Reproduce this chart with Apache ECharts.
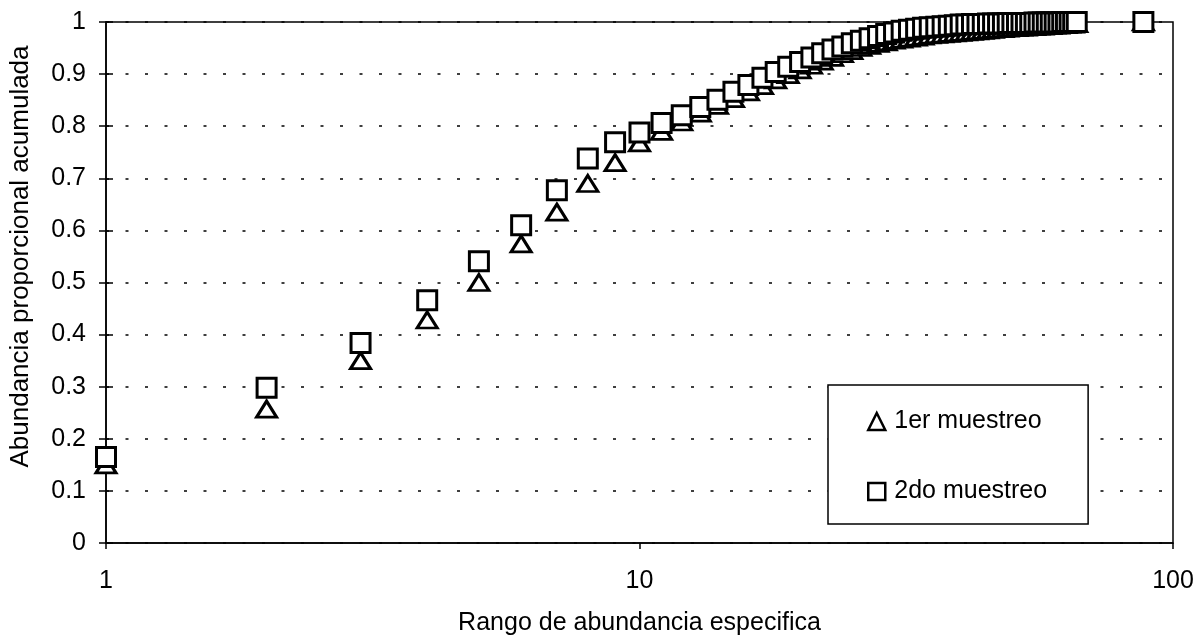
<!DOCTYPE html>
<html>
<head>
<meta charset="utf-8">
<script src="https://cdn.jsdelivr.net/npm/echarts@6/dist/echarts.min.js"></script>
<style>
html,body{margin:0;padding:0;background:#fff;}
#chart{width:1202px;height:642px;}
</style>
</head>
<body>
<div id="chart"></div>
<script>
// Rank of species (x)
var ranks = [1,2,3,4,5,6,7,8,9,10,11,12,13,14,15,16,17,18,19,20,
  21,22,23,24,25,26,27,28,29,30,31,32,33,34,35,36,37,38,39,40,
  41,42,43,44,45,46,47,48,49,50,51,52,53,54,55,56,57,58,59,60,
  61,62,63,64,65,66,88];

// 1er muestreo (triangles)
var muestreo1 = [0.150,0.257,0.350,0.428,0.500,0.574,0.635,0.690,0.730,0.768,
  0.790,0.808,0.825,0.840,0.853,0.866,0.878,0.889,0.899,0.908,
  0.917,0.925,0.932,0.939,0.945,0.951,0.955,0.959,0.962,0.965,
  0.967,0.969,0.971,0.973,0.975,0.976,0.977,0.978,0.979,0.980,
  0.981,0.982,0.983,0.984,0.985,0.986,0.987,0.987,0.988,0.989,
  0.989,0.990,0.990,0.991,0.991,0.992,0.992,0.993,0.993,0.994,
  0.994,0.995,0.995,0.996,0.996,0.997,1.000];

// 2do muestreo (squares)
var muestreo2 = [0.165,0.298,0.384,0.466,0.541,0.610,0.677,0.738,0.769,0.788,
  0.806,0.821,0.837,0.851,0.866,0.879,0.893,0.904,0.914,0.923,
  0.932,0.940,0.947,0.953,0.959,0.964,0.969,0.973,0.977,0.980,
  0.983,0.985,0.987,0.989,0.990,0.991,0.992,0.993,0.994,0.995,
  0.995,0.996,0.996,0.996,0.997,0.997,0.997,0.997,0.998,0.998,
  0.998,0.998,0.998,0.998,0.999,0.999,0.999,0.999,0.999,0.999,
  0.999,1.000,1.000,1.000,1.000,1.000,1.000];

var yTicks = [0,0.1,0.2,0.3,0.4,0.5,0.6,0.7,0.8,0.9,1];
var seriesNames = ['1er muestreo','2do muestreo'];

function pairs(xs, ys){ return xs.map(function(x,i){ return [x, ys[i]]; }); }

var FONT = '"Liberation Sans", Arial, Helvetica, sans-serif';

var chart = echarts.init(document.getElementById('chart'), null, {renderer:'canvas'});
chart.setOption({
  backgroundColor:'#fff',
  animation:false,
  grid:{left:105, right:29, top:22, bottom:99, show:true, borderColor:'#000', borderWidth:1.5, containLabel:false},
  legend:{
    orient:'vertical', left:828, top:385,
    data:[{name:seriesNames[0], icon:'triangle'},{name:seriesNames[1], icon:'rect'}],
    selectedMode:false,
    backgroundColor:'#fff', borderColor:'#000', borderWidth:1.5,
    padding:[24,41,20,39], itemGap:45,
    itemWidth:17, itemHeight:17,
    itemStyle:{color:'#fff', borderColor:'#000', borderWidth:2.5},
    textStyle:{fontFamily:FONT, fontSize:25, color:'#000', padding:[0,0,0,4]}
  },
  xAxis:{
    type:'log', logBase:10, min:1, max:100,
    name:'Rango de abundancia especifica', nameLocation:'middle', nameGap:68,
    nameTextStyle:{fontFamily:FONT, fontSize:25, color:'#000'},
    axisLine:{lineStyle:{color:'#000', width:1.5}},
    axisTick:{show:true, length:6, lineStyle:{color:'#000', width:1.5}},
    axisLabel:{fontFamily:FONT, fontSize:25, color:'#000', margin:26},
    splitLine:{show:false},
    minorTick:{show:false}
  },
  yAxis:[{
    type:'value', min:0, max:1, interval:0.1,
    name:'Abundancia proporcional acumulada', nameLocation:'middle', nameGap:72,
    nameTextStyle:{fontFamily:FONT, fontSize:26, color:'#000', padding:[0,0,0,52]},
    axisLine:{show:true, lineStyle:{color:'#000', width:1.5}},
    axisTick:{show:true, length:7, lineStyle:{color:'#000', width:1.5}},
    axisLabel:{fontFamily:FONT, fontSize:25, color:'#000', margin:20,
      formatter:function(v){ var t = yTicks.filter(function(k){return Math.abs(k-v)<1e-9;}); return t.length? String(+t[0].toFixed(1)) : ''; }},
    splitLine:{show:true, lineStyle:{color:'#000', width:1.5, type:[3,16.5]}}
  },{
    type:'value', min:0, max:1, interval:0.1, position:'left',
    axisLine:{show:false},
    axisTick:{show:true, inside:true, length:7, lineStyle:{color:'#000', width:1.5}},
    axisLabel:{show:false}, splitLine:{show:false}
  }],
  series:[{
    name:seriesNames[0], type:'scatter', yAxisIndex:0,
    data:pairs(ranks, muestreo1),
    symbol:'triangle', symbolSize:[20,16], clip:false,
    itemStyle:{color:'#fff', borderColor:'#000', borderWidth:3, opacity:1}
  },{
    name:seriesNames[1], type:'scatter', yAxisIndex:0,
    data:pairs(ranks, muestreo2),
    symbol:'rect', symbolSize:19, clip:false,
    itemStyle:{color:'#fff', borderColor:'#000', borderWidth:3, opacity:1}
  }]
});
</script>
</body>
</html>
